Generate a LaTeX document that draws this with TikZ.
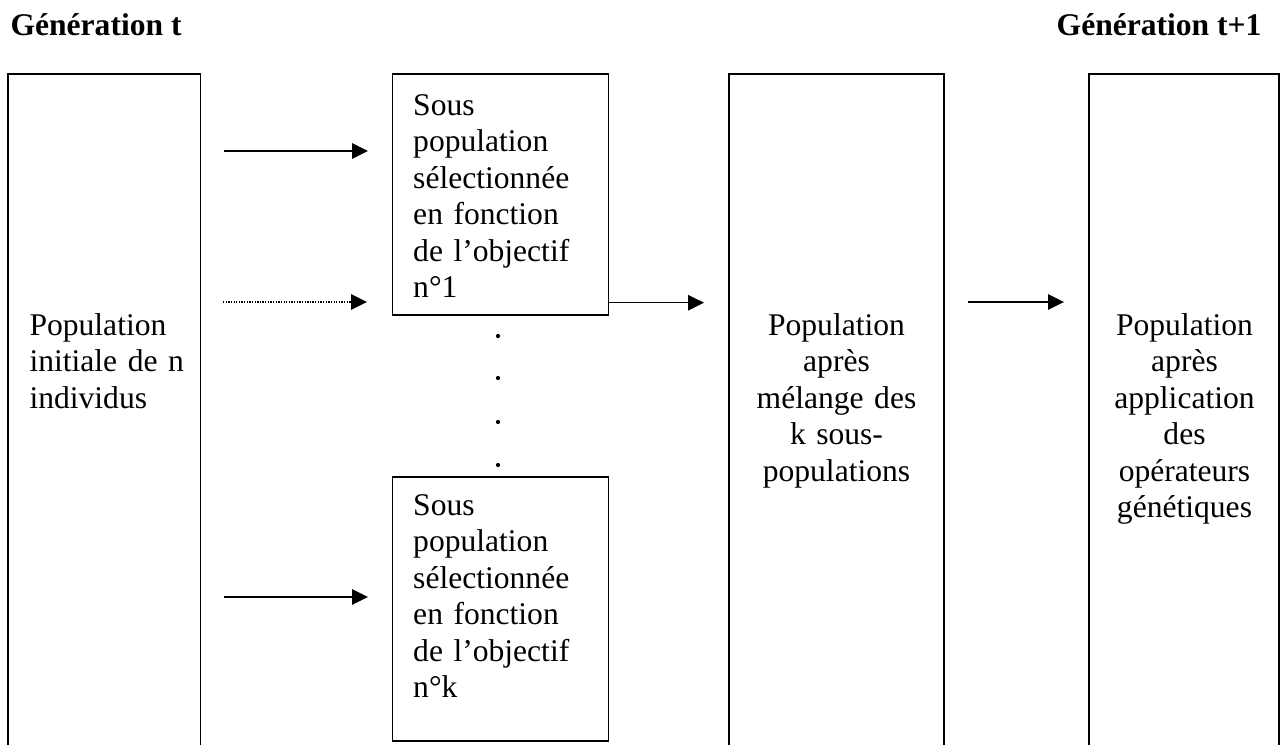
\documentclass[tikz,border=0pt]{standalone}
\usepackage{fontspec}
\setmainfont{Liberation Serif}
\usetikzlibrary{arrows.meta}

\tikzset{
    boxline/.style={line width=0.5pt},
    flow/.style={->, line width=0.5pt},
    txt/.style={inner sep=0pt, font=\fontsize{12}{13.9}\selectfont},
}

\begin{document}
\begin{tikzpicture}[x=0.38pt, y=-0.38pt, >={Triangle[length=6pt,width=5.8pt]}]
    \useasboundingbox (0,0) rectangle (1280,745);

    % Headings
    \node[txt, anchor=base west, font=\fontsize{12}{13.9}\selectfont\bfseries] (gent) at (10,35) {Génération t};
    \node[txt, anchor=base east, font=\fontsize{12}{13.9}\selectfont\bfseries] (gentnext) at (1262,35) {Génération t+1};

    % Tall boxes (open at the bottom)
    \draw[boxline] (8,745) |- (200.7,74) -- (200.7,745);
    \draw[boxline] (729,745) |- (944,74) -- (944,745);
    \draw[boxline] (1089,745) |- (1279,74) -- (1279,745);

    % Sub-population boxes
    \draw[boxline] (392.7,74) rectangle (608.7,315);
    \draw[boxline] (392.7,477) rectangle (608.7,741);

    % Texts
    \node[txt, anchor=base west, text width=65pt, align=left] (init) at (29,335)
        {Population\\initiale de n\\individus};
    \node[txt, anchor=base west, text width=72pt, align=left] (subone) at (412.7,115)
        {Sous\\population\\sélectionnée\\en fonction\\de l’objectif\\n°1};
    \node[txt, anchor=base west, text width=72pt, align=left] (subk) at (412.7,515)
        {Sous\\population\\sélectionnée\\en fonction\\de l’objectif\\n°k};
    \node[txt, anchor=base, text width=76pt, align=center] (mix) at (836.5,335)
        {Population\\après\\mélange des\\k sous-\\populations};
    \node[txt, anchor=base, text width=70pt, align=center] (final) at (1184.5,335)
        {Population\\après\\application\\des\\opérateurs\\génétiques};

    % Dots between the two sub-population boxes
    \foreach \y in {336,378,422,465}
        \fill (498,\y) circle[radius=0.8pt];

    % Arrow ends
    \coordinate (inA) at (224,151);
    \coordinate (outA) at (368,151);
    \coordinate (inB) at (223,302);
    \coordinate (outB) at (367,302);
    \coordinate (inC) at (224,597);
    \coordinate (outC) at (368,597);
    \coordinate (subend) at (608.7,302.7);
    \coordinate (mixin) at (704,302.7);
    \coordinate (mixout) at (968,302);
    \coordinate (finalin) at (1064,302);

    % Arrows
    \draw[flow] (inA) -- (outA);
    \draw[flow, dash pattern=on 0.5pt off 0.5pt] (inB) -- (outB);
    \draw[flow] (inC) -- (outC);
    \draw[flow] (subend) -- (mixin);
    \draw[flow] (mixout) -- (finalin);
\end{tikzpicture}
\end{document}
